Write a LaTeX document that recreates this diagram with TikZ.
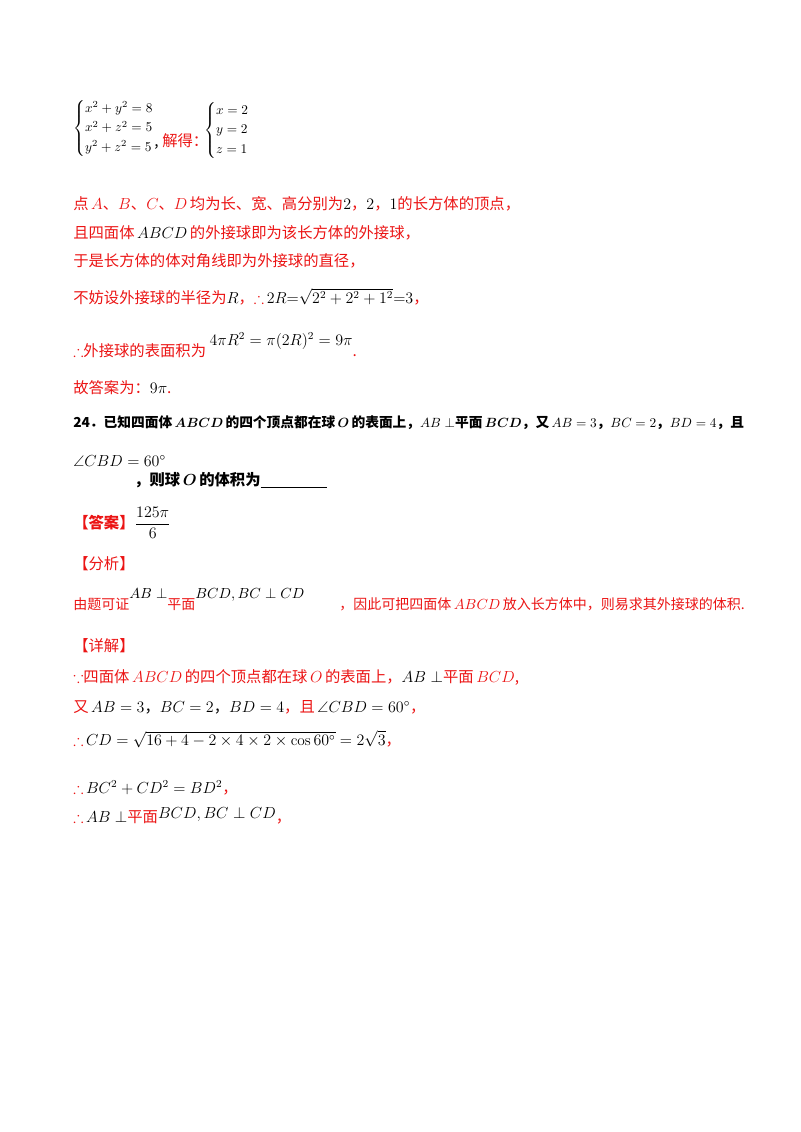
\documentclass[tikz,border=0pt]{standalone}
\usepackage{fontspec}
\usepackage{amsmath,amssymb}
\newfontfamily\cjk{Noto Sans CJK SC}
\definecolor{ansred}{RGB}{235,20,20}
\begin{document}
\begin{tikzpicture}[x=0.75pt,y=-0.75pt,
  ln/.style={anchor=base west,inner sep=0pt,font=\cjk\fontsize{11.5}{14}\selectfont},
  rd/.style={ln,text=ansred},
  bk/.style={ln,text=black}]
\useasboundingbox (0,0) rectangle (800,1132);
\node[bk,anchor=west] (s1) at (73,128) {\fontsize{10}{12}\selectfont\renewcommand\arraystretch{1.25}$\begin{cases}x^2+y^2=8\\x^2+z^2=5\\y^2+z^2=5\end{cases}$};
\node[bk] (s1c) at (154,146) {,};
\node[rd] (s1b) at (162,146) {解得：};
\node[bk,anchor=west] (s2) at (204,130) {\fontsize{10}{12}\selectfont\renewcommand\arraystretch{1.35}$\begin{cases}x=2\\y=2\\z=1\end{cases}$};
\node[rd] (l1) at (73,209) {点\,$A$、$B$、$C$、$D$\,均为长、宽、高分别为\textcolor{black}{$2$}，\textcolor{black}{$2$}，\textcolor{black}{$1$}的长方体的顶点，};
\node[rd] (l2) at (73,238) {且四面体\,\textcolor{black}{$ABCD$}\,的外接球即为该长方体的外接球，};
\node[rd] (l3) at (73,266) {于是长方体的体对角线即为外接球的直径，};
\node[rd] (l4) at (73,303) {不妨设外接球的半径为\textcolor{black}{$R$}，$\therefore$\,\textcolor{black}{$2R{=}\sqrt{2^2+2^2+1^2}{=}3$}，};
\node[rd] (l5) at (73,356) {$\therefore$外接球的表面积为 \raisebox{8pt}{\textcolor{black}{$4\pi R^2=\pi(2R)^2=9\pi$}}.};
\node[rd] (l6) at (73,393) {故答案为：\textcolor{black}{$9\pi$}.};
\node[bk,font=\cjk\fontsize{10.3}{13}\selectfont] (q1) at (73,427) {\bfseries 24．已知四面体\,$\boldsymbol{ABCD}$\,的四个顶点都在球\,$\boldsymbol{O}$\,的表面上，$AB\perp$平面\,$\boldsymbol{BCD}$，又\,$AB=3$，$BC=2$，$BD=4$，且};
\node[bk] (q2) at (73,466) {$\angle CBD=60^{\circ}$};
\node[bk] (q3) at (134,485) {\bfseries ，则球\,$\boldsymbol{O}$\,的体积为\rule[-2pt]{50pt}{0.8pt}};
\node[rd] (ans) at (73,528) {\bfseries 【答案】\textcolor{black}{\mdseries$\dfrac{125\pi}{6}$}};
\node[rd] (fx) at (73,569) {【分析】};
\node[rd,font=\cjk\fontsize{10.5}{13}\selectfont] (f1) at (73,609) {由题可证\raisebox{8pt}{\textcolor{black}{$AB\perp$}}平面\raisebox{8pt}{\textcolor{black}{$BCD,BC\perp CD$}}\hspace{2.5em}，因此可把四面体\,$ABCD$\,放入长方体中，则易求其外接球的体积.};
\node[rd] (xj) at (73,651) {【详解】};
\node[rd] (d1) at (73,682) {$\because$四面体\,$ABCD$\,的四个顶点都在球\,$O$\,的表面上，\textcolor{black}{$AB\perp$}平面\,$BCD$,};
\node[rd] (d2) at (73,712) {又\,\textcolor{black}{$AB=3$，$BC=2$，$BD=4$}，且\,\textcolor{black}{$\angle CBD=60^{\circ}$}，};
\node[rd] (d3) at (73,745) {$\therefore$\,\textcolor{black}{$CD=\sqrt{16+4-2\times4\times2\times\cos60^{\circ}}=2\sqrt3$}，};
\node[rd] (d4) at (73,793) {$\therefore$\,\textcolor{black}{$BC^2+CD^2=BD^2$}，};
\node[rd] (d5) at (73,822) {$\therefore$\,\textcolor{black}{$AB\perp$}平面\raisebox{3pt}{\textcolor{black}{$BCD,BC\perp CD$}}，};
\end{tikzpicture}
\end{document}
